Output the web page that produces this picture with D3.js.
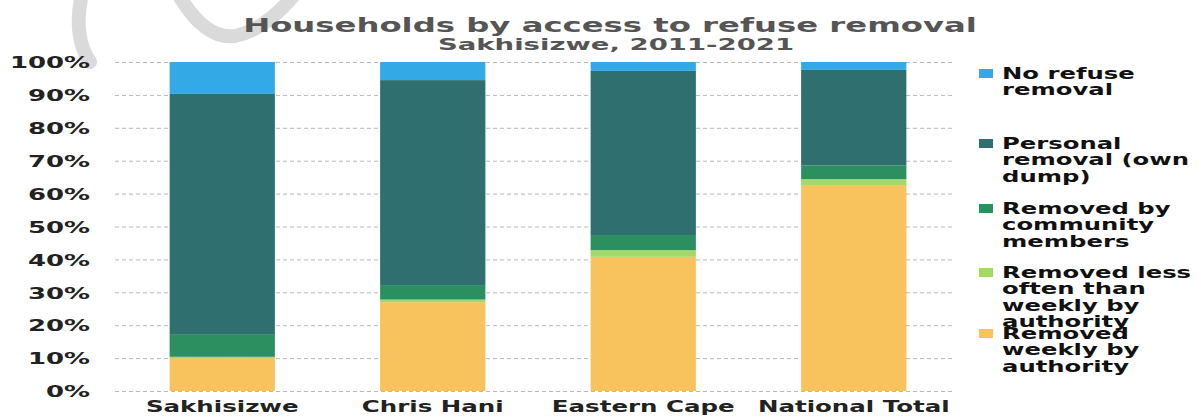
<!DOCTYPE html>
<html>
<head>
<meta charset="utf-8">
<script src="https://cdn.jsdelivr.net/npm/d3@7"></script>
<style>
  html, body { margin: 0; padding: 0; background: #ffffff; }
  svg { display: block; }
  text { font-family: "DejaVu Sans", sans-serif; font-weight: bold; }
</style>
</head>
<body>
<svg id="chart" width="1199" height="416"></svg>
<script>
// Share of households by type of refuse removal (%), 2011-2021
const categories = ["Sakhisizwe", "Chris Hani", "Eastern Cape", "National Total"];
const weekly     = [10.0, 27.0, 40.8, 62.6];   // removed weekly by authority
const lessOften  = [0.4, 0.8, 2.0, 1.8];       // removed less often than weekly by authority
const community  = [6.9, 4.4, 4.6, 4.2];       // removed by community members
const personal   = [73.0, 62.3, 49.9, 29.0];   // personal removal (own dump)
const noRemoval  = [9.7, 5.5, 2.7, 2.4];       // no refuse removal
const yTicks     = [0, 10, 20, 30, 40, 50, 60, 70, 80, 90, 100];

const seriesKeys = ["weekly", "lessOften", "community", "personal", "noRemoval"];
const colors = {
  weekly: "#f8c35d",
  lessOften: "#a3d86a",
  community: "#2b8f5f",
  personal: "#2f6f70",
  noRemoval: "#33a9e6"
};
// legend, top to bottom
const legendKeys = ["noRemoval", "personal", "community", "lessOften", "weekly"];
const legendLines = [
  ["No refuse", "removal"],
  ["Personal", "removal (own", "dump)"],
  ["Removed by", "community", "members"],
  ["Removed less", "often than", "weekly by", "authority"],
  ["Removed", "weekly by", "authority"]
];
const legendTop = [79, 149, 214, 278, 339];

const rows = categories.map((c, i) => ({
  category: c,
  weekly: weekly[i],
  lessOften: lessOften[i],
  community: community[i],
  personal: personal[i],
  noRemoval: noRemoval[i]
}));

const svg = d3.select("#chart");

const x = d3.scaleBand().domain(categories).range([117, 959])
  .paddingInner(0.5).paddingOuter(0.25);
const y = d3.scaleLinear().domain([0, 100]).range([391, 62]);

// faint pen stroke in the top-left corner
svg.append("g").attr("fill", "none").attr("stroke", "#dadada")
  .attr("stroke-width", 14).attr("stroke-linecap", "round")
  .selectAll("path")
  .data(["M82,-6 C76,20 78,45 90,62", "M178,-6 Q205,40 235,36 Q265,30 295,-6"])
  .join("path").attr("d", d => d);

// dashed gridlines
svg.append("g").selectAll("line").data(yTicks).join("line")
  .attr("x1", 115).attr("x2", 952)
  .attr("y1", d => y(d) + 0.5).attr("y2", d => y(d) + 0.5)
  .attr("stroke", "#b8b8b8").attr("stroke-width", 1)
  .attr("stroke-dasharray", "4,3");

// stacked bars
const stacked = d3.stack().keys(seriesKeys)(rows);
svg.append("g").selectAll("g").data(stacked).join("g")
  .attr("fill", d => colors[d.key])
  .selectAll("rect").data(d => d).join("rect")
  .attr("x", d => x(d.data.category))
  .attr("width", x.bandwidth())
  .attr("y", d => y(d[1]))
  .attr("height", d => y(d[0]) - y(d[1]));

// y axis
const yAxis = svg.append("g").attr("transform", "translate(90,0)")
  .call(d3.axisLeft(y).tickValues(yTicks).tickFormat(d => d + "%").tickSize(0));
yAxis.select(".domain").remove();
yAxis.selectAll("text")
  .attr("x", 0).attr("dy", "0.36em")
  .attr("font-size", 16).attr("fill", "#222")
  .style("font-family", "DejaVu Sans").style("font-weight", "bold")
  .attr("transform", "scale(1.62,1)");

// x axis
const xAxis = svg.append("g").attr("transform", "translate(0,391)")
  .call(d3.axisBottom(x).tickSize(0));
xAxis.select(".domain").remove();
xAxis.selectAll("text")
  .attr("y", 21).attr("dy", 0)
  .attr("font-size", 15.5).attr("fill", "#222")
  .style("font-family", "DejaVu Sans").style("font-weight", "bold")
  .attr("transform", "scale(1.58,1)");

// title and subtitle
svg.append("g").attr("transform", "translate(610,32) scale(1.7,1)")
  .append("text").attr("text-anchor", "middle").attr("font-size", 19)
  .attr("fill", "#555").text("Households by access to refuse removal");
svg.append("g").attr("transform", "translate(616,50) scale(1.72,1)")
  .append("text").attr("text-anchor", "middle").attr("font-size", 16)
  .attr("fill", "#555").text("Sakhisizwe, 2011-2021");

// legend
const lh = 16.3;
const legend = svg.append("g");
legendKeys.forEach((k, i) => {
  const g = legend.append("g").attr("transform", `translate(979,${legendTop[i]})`);
  g.append("rect").attr("x", 0).attr("y", -10).attr("width", 14).attr("height", 9)
    .attr("fill", colors[k]);
  legendLines[i].forEach((line, j) => {
    g.append("g").attr("transform", `translate(23,${j * lh}) scale(1.62,1)`)
      .append("text").attr("font-size", 15).attr("fill", "#111").text(line);
  });
});
</script>
</body>
</html>
